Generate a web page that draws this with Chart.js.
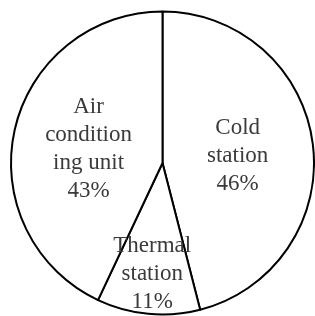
<!DOCTYPE html>
<html>
<head>
<meta charset="utf-8">
<script src="https://cdn.jsdelivr.net/npm/chart.js@4"></script>
<style>
  html, body { margin: 0; padding: 0; background: #fff; }
  #wrap { width: 315px; height: 316px; }
</style>
</head>
<body>
<div id="wrap"><canvas id="grafico" width="315" height="316"></canvas></div>
<script>
// categorias e valores (%)
const categorias = ['Cold station', 'Thermal station', 'Air conditioning unit'];
const valores = [46, 11, 43];
// texto como aparece dentro de cada fatia
const linhasRotulo = [
    ['Cold', 'station', '46%'],
    ['Thermal', 'station', '11%'],
    ['Air', 'condition', 'ing unit', '43%']
];
// distancia do rotulo ao centro, fracao do raio
const raioRotulo = [0.5, 0.72, 0.5];

// plugin simples para escrever os rotulos dentro das fatias
const rotulosPlugin = {
    id: 'rotulos',
    afterDatasetsDraw(chart) {
        const ctx = chart.ctx;
        const arcos = chart.getDatasetMeta(0).data;
        const tamFonte = 23;
        const alturaLinha = 28;
        ctx.save();
        ctx.font = tamFonte + 'px "Liberation Serif", "Times New Roman", serif';
        ctx.fillStyle = '#3a3a3a';
        ctx.textAlign = 'center';
        ctx.textBaseline = 'alphabetic';
        arcos.forEach((arco, i) => {
            const p = arco.getProps(['x', 'y', 'startAngle', 'endAngle', 'outerRadius'], true);
            const meio = (p.startAngle + p.endAngle) / 2;
            const r = p.outerRadius * raioRotulo[i];
            const cx = p.x + Math.cos(meio) * r;
            const cy = p.y + Math.sin(meio) * r;
            const linhas = linhasRotulo[i];
            const topo = cy - (linhas.length - 1) * alturaLinha / 2;
            linhas.forEach((linha, j) => {
                // linha de base ~0.35em abaixo do centro visual
                ctx.fillText(linha, cx, topo + j * alturaLinha + tamFonte * 0.35);
            });
        });
        ctx.restore();
    }
};

const ctx = document.getElementById('grafico').getContext('2d');
const chartPizza = new Chart(ctx, {
    type: 'pie',
    data: {
        labels: categorias,
        datasets: [{
            data: valores,
            backgroundColor: '#ffffff',
            borderColor: '#000000',
            borderWidth: 2
        }]
    },
    options: {
        responsive: false,
        animation: false,
        layout: { padding: { left: 10, top: 10, right: -2, bottom: -2 } },
        plugins: {
            legend: { display: false },
            tooltip: { enabled: false }
        }
    },
    plugins: [rotulosPlugin]
});
</script>
</body>
</html>
